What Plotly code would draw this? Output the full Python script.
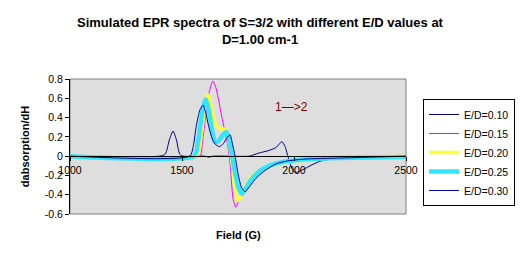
import plotly.graph_objects as go

# ---------------- data ----------------
series_names = ["E/D=0.10", "E/D=0.15", "E/D=0.20", "E/D=0.25", "E/D=0.30"]

field_010 = [1000, 1400, 1425, 1445, 1460, 1475, 1490, 1505, 1600, 1620, 1640, 1800,
             1840, 1890, 1920, 1946, 1960, 1975, 1995, 2010, 2040, 2080, 2120, 2170,
             2220, 2300, 2340, 2360, 2380, 2400, 2420, 2500]
vals_010 = [0, 0, 0.02, 0.18, 0.26, 0.17, 0.02, 0, 0, -0.01, 0, 0,
            0.03, 0.06, 0.09, 0.15, 0.1, -0.02, -0.15, -0.17, -0.14, -0.09, -0.05, -0.03,
            -0.015, -0.01, -0.01, 0.005, -0.01, 0.005, -0.005, 0]

field_015 = [1000, 1580, 1590, 1603, 1620, 1638, 1650, 1662, 1680, 1695, 1705, 1714,
             1728, 1740, 1752, 1765, 1790, 1830, 1880, 1950, 2050, 2200, 2350, 2500]
vals_015 = [0, 0, 0.12, 0.37, 0.65, 0.78, 0.72, 0.6, 0.38, 0.22, 0.1, -0.06,
            -0.44, -0.53, -0.47, -0.38, -0.27, -0.18, -0.11, -0.07, -0.04, -0.02, -0.01, 0]

field_020 = [1000, 1565, 1580, 1594, 1605, 1616, 1627, 1640, 1656, 1675, 1692, 1703,
             1714, 1725, 1738, 1750, 1762, 1780, 1810, 1850, 1900, 1950, 2050, 2200, 2350, 2500]
vals_020 = [0, 0, 0.12, 0.37, 0.55, 0.64, 0.55, 0.4, 0.31, 0.28, 0.28, 0.22,
            0.09, -0.1, -0.35, -0.46, -0.42, -0.32, -0.22, -0.15, -0.1, -0.07, -0.04, -0.02, -0.01, 0]

field_025 = [1000, 1555, 1570, 1585, 1596, 1607, 1618, 1632, 1647, 1660, 1680, 1698,
             1710, 1720, 1735, 1752, 1768, 1785, 1810, 1850, 1900, 1950, 2050, 2200, 2350, 2500]
vals_025 = [0, 0, 0.12, 0.37, 0.52, 0.59, 0.5, 0.3, 0.15, 0.15, 0.21, 0.25,
            0.18, 0.05, -0.15, -0.33, -0.39, -0.33, -0.24, -0.15, -0.09, -0.06, -0.035, -0.02, -0.015, -0.01]

field_030 = [1000, 1535, 1550, 1565, 1580, 1594, 1606, 1620, 1635, 1650, 1668, 1685,
             1700, 1715, 1726, 1737, 1750, 1765, 1781, 1800, 1830, 1870, 1920, 1970,
             2050, 2200, 2350, 2500]
vals_030 = [0, 0, 0.1, 0.33, 0.48, 0.53, 0.45, 0.3, 0.18, 0.12, 0.1, 0.13,
            0.19, 0.22, 0.12, 0.0, -0.18, -0.32, -0.37, -0.32, -0.23, -0.15, -0.08, -0.05,
            -0.03, -0.02, -0.01, 0]

x_tickvals = [1000, 1500, 2000, 2500]
x_ticktext = ["1000", "1500", "2000", "2500"]
y_tickvals = [0.8, 0.6, 0.4, 0.2, 0, -0.2, -0.4, -0.6]
y_ticktext = ["0.8", "0.6", "0.4", "0.2", "0", "-0.2", "-0.4", "-0.6"]

x_range = [1000, 2500]
y_range = [-0.6, 0.8]

# ---------------- styles ----------------
colors = ["#000080", "#FF00FF", "#FFFF33", "#33E6FF", "#0000A0"]
widths = [1, 1, 3.5, 4.5, 1]
fields = [field_010, field_015, field_020, field_025, field_030]
values = [vals_010, vals_015, vals_020, vals_025, vals_030]

FONT = "Liberation Sans, Arial, sans-serif"

fig = go.Figure()
for name, fx, fy, c, w in zip(series_names, fields, values, colors, widths):
    fig.add_trace(go.Scatter(
        x=fx, y=fy, mode="lines", name=name,
        line=dict(color=c, width=w, shape="spline", smoothing=0.6),
    ))

# position of x axis line at y = 0
x_axis_pos = (0 - y_range[0]) / (y_range[1] - y_range[0])

fig.update_layout(
    width=520, height=265,
    margin=dict(l=70, r=114, t=79, b=51, pad=0, autoexpand=False),
    paper_bgcolor="white",
    plot_bgcolor="#DEDEDE",
    font=dict(family=FONT, size=10.5, color="black"),
    title=dict(
        text="<b>Simulated EPR spectra of S=3/2 with different E/D values at<br>D=1.00 cm-1</b>",
        x=0.5, xref="container", xanchor="center",
        y=0.898, yref="container", yanchor="top",
        font=dict(family=FONT, size=13, color="black"),
    ),
    showlegend=True,
    legend=dict(
        x=1.0506, y=0.852, xanchor="left", yanchor="top",
        bgcolor="white", bordercolor="black", borderwidth=1,
        font=dict(family=FONT, size=10.5, color="black"),
        tracegroupgap=0, itemwidth=30,
    ),
    xaxis=dict(
        range=x_range, tickvals=x_tickvals, ticktext=x_ticktext,
        anchor="free", position=x_axis_pos,
        showline=True, linecolor="black", linewidth=1,
        ticks="outside", ticklen=4, tickcolor="black",
        showgrid=False, zeroline=False,
        tickfont=dict(family=FONT, size=10.5, color="black"),
    ),
    yaxis=dict(
        range=y_range, tickvals=y_tickvals, ticktext=y_ticktext,
        showline=True, linecolor="black", linewidth=1,
        ticks="outside", ticklen=4, tickcolor="black",
        showgrid=False, zeroline=False,
        tickfont=dict(family=FONT, size=10.5, color="black"),
        title=dict(text="<b>dabsorption/dH</b>", standoff=12,
                   font=dict(family=FONT, size=11, color="black")),
    ),
    shapes=[dict(type="rect", xref="x domain", yref="y domain",
                 x0=0, x1=1, y0=0, y1=1, layer="below",
                 line=dict(color="#808080", width=1))],
    annotations=[
        dict(text="<b>Field (G)</b>", xref="paper", yref="paper",
             x=0.5, y=-0.156, xanchor="center", yanchor="middle", showarrow=False,
             font=dict(family=FONT, size=11, color="black")),
        dict(text="1\u2014>2", xref="x", yref="y",
             x=1990, y=0.51, xanchor="center", yanchor="middle", showarrow=False,
             font=dict(family=FONT, size=12, color="#800000")),
    ],
)

fig.write_html("out.html")
